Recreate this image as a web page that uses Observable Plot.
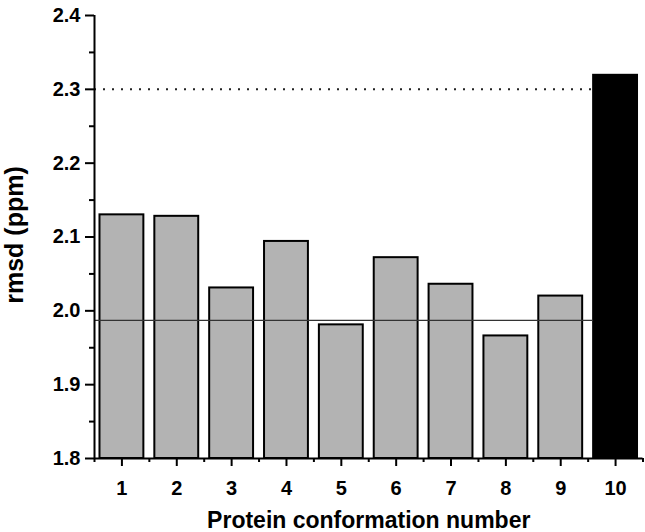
<!DOCTYPE html>
<html>
<head>
<meta charset="utf-8">
<script src="https://cdn.jsdelivr.net/npm/d3@7"></script>
<script src="https://cdn.jsdelivr.net/npm/@observablehq/plot@0.6"></script>
<style>
  html, body { margin: 0; padding: 0; background: #fff; }
  #chart { width: 645px; height: 532px; }
</style>
</head>
<body>
<div id="chart"></div>
<script>
// Data
const conformations = [1, 2, 3, 4, 5, 6, 7, 8, 9, 10];
const rmsdValues = [2.130, 2.128, 2.031, 2.094, 1.981, 2.072, 2.036, 1.966, 2.020, 2.319];
const highlighted = [false, false, false, false, false, false, false, false, false, true];
const averageLine = [1.987];
const thresholdLine = [2.3];
const yMajorTicks = [1.8, 1.9, 2.0, 2.1, 2.2, 2.3, 2.4];
const yMinorTicks = [1.85, 1.95, 2.05, 2.15, 2.25, 2.35];
const xMinorTicks = [0.5, 1.5, 2.5, 3.5, 4.5, 5.5, 6.5, 7.5, 8.5, 9.5, 10.5];
const xTitle = "Protein conformation number";
const yTitle = "rmsd (ppm)";

const bars = conformations.map((c, i) => ({c, v: rmsdValues[i], hi: highlighted[i]}));
const half = 0.4;
const yMin = yMajorTicks[0];
const xStart = d3.min(conformations) - 0.5;
const xEnd = d3.max(conformations) - half;

const font = "'Liberation Sans', Arial, Helvetica, sans-serif";

const chart = Plot.plot({
  width: 645,
  height: 532,
  marginLeft: 94,
  marginRight: 2.5,
  marginTop: 15,
  marginBottom: 74,
  style: {fontFamily: font, fontWeight: "bold", background: "#fff", color: "#000", overflow: "visible"},
  x: {type: "linear", domain: [0.5, 10.5]},
  y: {domain: [1.8, 2.4]},
  marks: [
    Plot.rectY(bars, {
      x1: d => d.c - half,
      x2: d => d.c + half,
      y1: yMin,
      y2: "v",
      fill: d => d.hi ? "#000" : "#b3b3b3",
      stroke: "#000",
      strokeWidth: 2
    }),
    Plot.ruleY(averageLine, {x1: xStart, x2: xEnd, stroke: "#333", strokeWidth: 1.3}),
    Plot.ruleY(thresholdLine, {x1: xStart, x2: xEnd, stroke: "#222", strokeWidth: 2, strokeDasharray: "2,7"}),
    // axes lines
    Plot.ruleX([0.5], {stroke: "#000", strokeWidth: 2}),
    Plot.ruleY([1.8], {stroke: "#000", strokeWidth: 2}),
    // y axis
    Plot.axisY(yMajorTicks, {
      tickSize: 9, tickPadding: 5, tickFormat: d3.format(".1f"),
      fontSize: 20, fontWeight: "bold", strokeWidth: 2, label: null
    }),
    Plot.axisY(yMinorTicks, {tickSize: 5, text: null, strokeWidth: 2, label: null}),
    // x axis
    Plot.axisX(conformations, {
      tickSize: 8, tickPadding: 14, tickFormat: d3.format("d"),
      fontSize: 20, fontWeight: "bold", strokeWidth: 2, label: null
    }),
    Plot.axisX(xMinorTicks, {tickSize: 4, text: null, strokeWidth: 2, label: null}),
    // titles
    Plot.text([xTitle], {
      frameAnchor: "bottom", dy: 69, lineAnchor: "bottom",
      text: d => d, fontSize: 23, fontWeight: "bold", fill: "#000"
    }),
    Plot.text([yTitle], {
      frameAnchor: "left", dx: -72, dy: -2, rotate: -90, textAnchor: "middle", lineAnchor: "bottom",
      text: d => d, fontSize: 25, fontWeight: "bold", fill: "#000"
    })
  ]
});
document.getElementById("chart").appendChild(chart);
</script>
</body>
</html>
